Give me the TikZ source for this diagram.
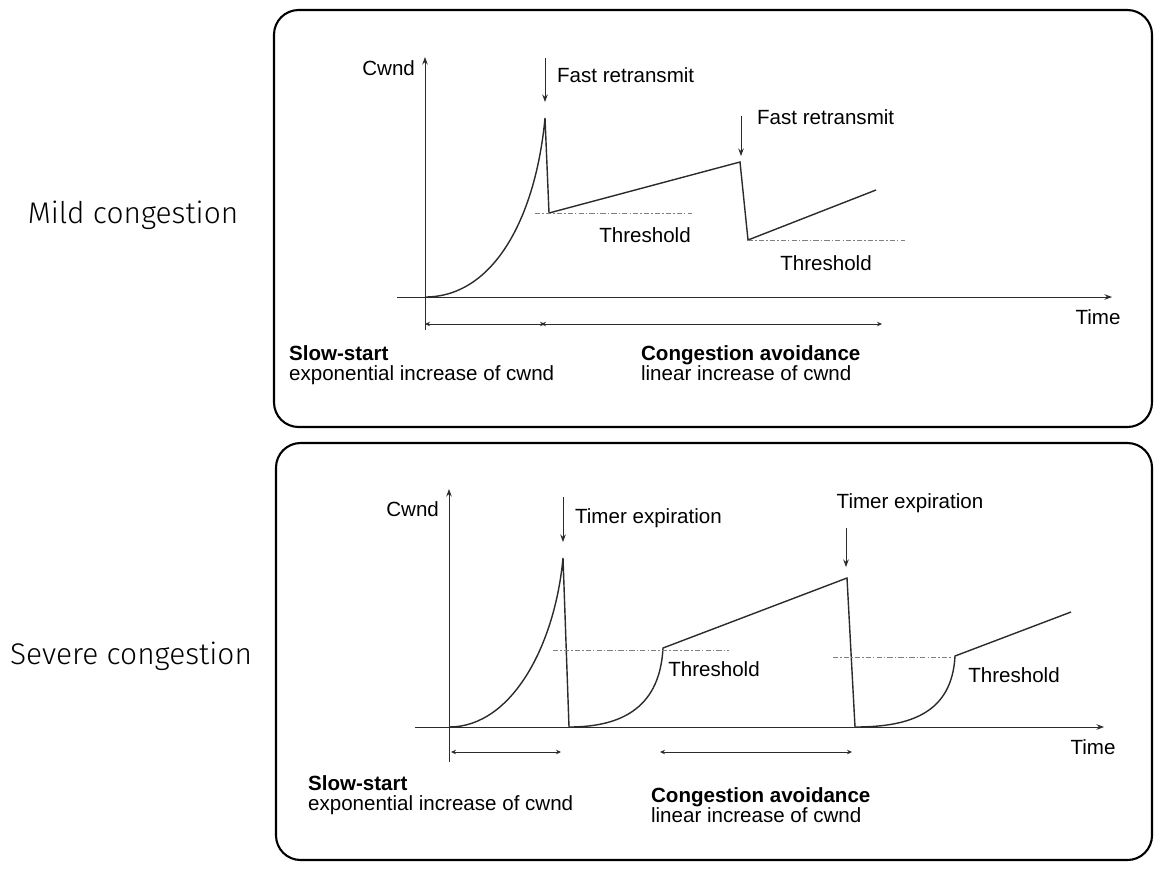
\documentclass[tikz,border=0pt]{standalone}
\usepackage{fontspec}
\setmainfont{Liberation Sans}
\newfontfamily\handfont{Fira Sans Light}
\usepackage{tikz}
\usetikzlibrary{arrows.meta,positioning}
\definecolor{inkgray}{HTML}{2B2B2B}
\tikzset{panel/.style={draw=black,line width=1.2pt,rounded corners=14pt},
  axis/.style={-{Stealth[length=1.5mm,width=1.1mm]},line width=0.55pt,draw=inkgray},
  cwnd/.style={line width=0.8pt,draw=inkgray},
  thresh/.style={dash pattern=on 3pt off 1.2pt on 0.8pt off 1.2pt,line width=0.55pt,draw=gray},
  span/.style={{Stealth[length=1mm,width=0.9mm]}-{Stealth[length=1mm,width=0.9mm]},line width=0.5pt,draw=inkgray},
  event/.style={-{Stealth[length=1.5mm,width=1.1mm]},line width=0.5pt,draw=inkgray},
  lbl/.style={font=\fontsize{11.7}{11.6}\selectfont,inner sep=1pt},
  side/.style={font=\handfont\fontsize{17}{19}\selectfont}}

\begin{document}
\begin{tikzpicture}[x=0.02cm,y=-0.02cm]
 \useasboundingbox (0,0) rectangle (1162,870);
 % mild congestion
 \draw[panel] (274,10) rectangle (1152,427);
 \node[side] (mild) at (133,215) {Mild congestion};
 \coordinate (yb1) at (425,330); \coordinate (yt1) at (425,57);
 \coordinate (xl1) at (397,297); \coordinate (xr1) at (1112,297);
 \draw[axis] (yb1)--(yt1);
 \draw[axis] (xl1)--(xr1);
 \coordinate (a0) at (425,297); \coordinate (a1) at (545,118);
 \coordinate (a2) at (549,213); \coordinate (a3) at (740,162);
 \coordinate (a4) at (748,240); \coordinate (a5) at (876,190);
 \draw[cwnd] (a0) .. controls (495,297) and (536,215) .. (a1)--(a2)--(a3)--(a4)--(a5);
 \draw[thresh] (535,213)--(692,213);
 \draw[thresh] (748,240)--(905,240);
 \node[lbl,anchor=east] (cw1) at (417,68) {Cwnd};
 \node[lbl,anchor=west] (fr1) at (555,75) {Fast retransmit};
 \node[lbl,anchor=west] (fr2) at (755,117) {Fast retransmit};
 \coordinate (e1) at (545,58); \coordinate (e1b) at (545,102);
 \coordinate (e2) at (741,116); \coordinate (e2b) at (741,156);
 \draw[event] (e1)--(e1b);
 \draw[event] (e2)--(e2b);
 \node[lbl] (th1) at (645,235) {Threshold};
 \node[lbl] (th2) at (826,263) {Threshold};
 \node[lbl] (tm1) at (1098,317) {Time};
 \coordinate (s1) at (425,324); \coordinate (s2) at (545,324);
 \coordinate (s3) at (541,324); \coordinate (s4) at (882,324);
 \draw[span] (s1)--(s2);
 \draw[span] (s3)--(s4);
 \node[lbl,anchor=north west,align=left] (ss1) at (287,343)
  {\textbf{Slow-start}\\exponential increase of cwnd};
 \node[lbl,anchor=north west,align=left] (ca1) at (639,343)
  {\textbf{Congestion avoidance}\\linear increase of cwnd};
 % severe congestion
 \draw[panel] (276,443) rectangle (1152,860);
 \node[side] (severe) at (131,656) {Severe congestion};
 \coordinate (yb2) at (449,762); \coordinate (yt2) at (449,489);
 \coordinate (xl2) at (415,727); \coordinate (xr2) at (1104,727);
 \draw[axis] (yb2)--(yt2);
 \draw[axis] (xl2)--(xr2);
 \coordinate (b0) at (449,727); \coordinate (b1) at (563,558);
 \coordinate (b2) at (569,727); \coordinate (b3) at (663,648);
 \coordinate (b4) at (847,578); \coordinate (b5) at (855,727);
 \coordinate (b6) at (955,656); \coordinate (b7) at (1071,612);
 \draw[cwnd] (b0) .. controls (512,727) and (555,645) .. (b1)--(b2)
  .. controls (625,727) and (660,705) .. (b3)--(b4)--(b5)
  .. controls (912,727) and (952,712) .. (b6)--(b7);
 \draw[thresh] (553,650)--(729,650);
 \draw[thresh] (833,657)--(952,657);
 \node[lbl,anchor=east] (cw2) at (441,509) {Cwnd};
 \node[lbl,anchor=west] (te1) at (573,518) {Timer expiration};
 \node[lbl] (te2) at (910,503) {Timer expiration};
 \coordinate (f1) at (563,497); \coordinate (f1b) at (563,542);
 \coordinate (f2) at (846,528); \coordinate (f2b) at (846,567);
 \draw[event] (f1)--(f1b);
 \draw[event] (f2)--(f2b);
 \node[lbl] (th3) at (714,669) {Threshold};
 \node[lbl] (th4) at (1014,675) {Threshold};
 \node[lbl] (tm2) at (1093,747) {Time};
 \coordinate (t1) at (451,752); \coordinate (t2) at (561,752);
 \coordinate (t3) at (660,752); \coordinate (t4) at (852,752);
 \draw[span] (t1)--(t2);
 \draw[span] (t3)--(t4);
 \node[lbl,anchor=north west,align=left] (ss2) at (306,773)
  {\textbf{Slow-start}\\exponential increase of cwnd};
 \node[lbl,anchor=north west,align=left] (ca2) at (649,785)
  {\textbf{Congestion avoidance}\\linear increase of cwnd};
\end{tikzpicture}
\end{document}
